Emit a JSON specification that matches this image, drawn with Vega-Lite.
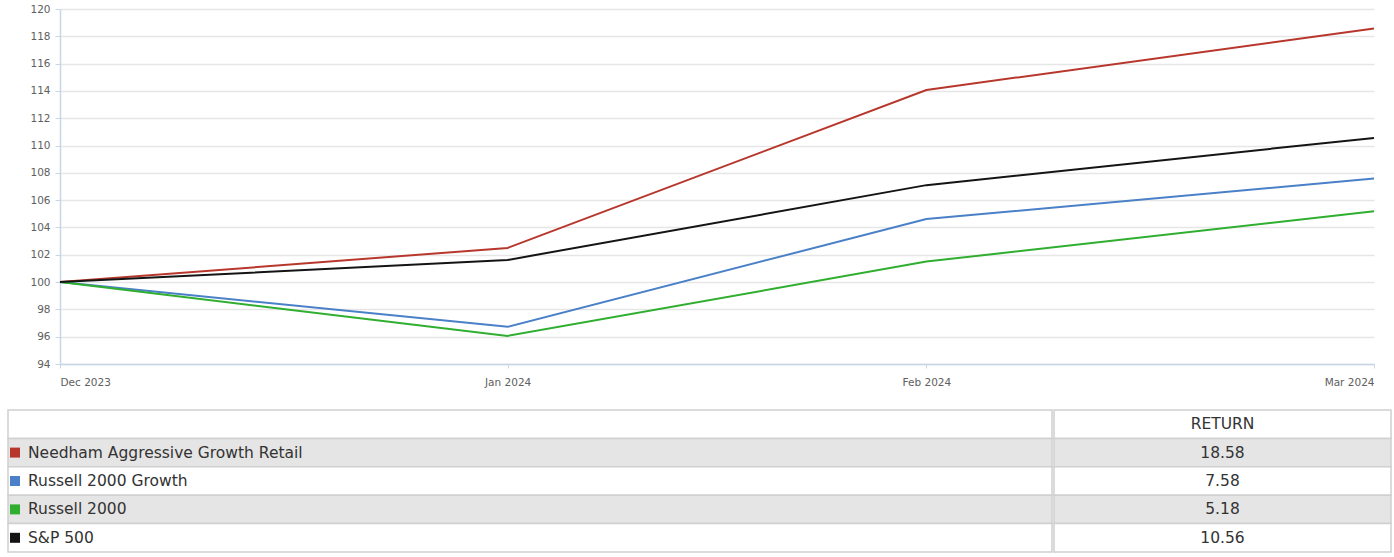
{
  "$schema": "https://vega.github.io/schema/vega-lite/v6.json",
  "padding": {"left": 7, "top": 4, "right": 0, "bottom": 0},
  "background": "#ffffff",
  "config": {"view": {"stroke": null}, "font": "DejaVu Sans"},
  "datasets": {
    "series": [
      {"series": "Needham Aggressive Growth Retail", "date": "2023-12-31", "value": 100},
      {"series": "Needham Aggressive Growth Retail", "date": "2024-01-31", "value": 102.5},
      {"series": "Needham Aggressive Growth Retail", "date": "2024-02-29", "value": 114.07},
      {"series": "Needham Aggressive Growth Retail", "date": "2024-03-31", "value": 118.58},
      {"series": "Russell 2000 Growth", "date": "2023-12-31", "value": 100},
      {"series": "Russell 2000 Growth", "date": "2024-01-31", "value": 96.72},
      {"series": "Russell 2000 Growth", "date": "2024-02-29", "value": 104.62},
      {"series": "Russell 2000 Growth", "date": "2024-03-31", "value": 107.58},
      {"series": "Russell 2000", "date": "2023-12-31", "value": 100},
      {"series": "Russell 2000", "date": "2024-01-31", "value": 96.06},
      {"series": "Russell 2000", "date": "2024-02-29", "value": 101.5},
      {"series": "Russell 2000", "date": "2024-03-31", "value": 105.18},
      {"series": "S&P 500", "date": "2023-12-31", "value": 100},
      {"series": "S&P 500", "date": "2024-01-31", "value": 101.62},
      {"series": "S&P 500", "date": "2024-02-29", "value": 107.1},
      {"series": "S&P 500", "date": "2024-03-31", "value": 110.56}
    ],
    "table": [
      {"rank": 0, "name": "", "ret": null},
      {"rank": 1, "name": "Needham Aggressive Growth Retail", "ret": 18.58},
      {"rank": 2, "name": "Russell 2000 Growth", "ret": 7.58},
      {"rank": 3, "name": "Russell 2000", "ret": 5.18},
      {"rank": 4, "name": "S&P 500", "ret": 10.56}
    ]
  },
  "vconcat": [
    {
      "width": 1314,
      "height": 355,
      "data": {"name": "series"},
      "mark": {"type": "line", "strokeWidth": 2},
      "encoding": {
        "x": {
          "field": "date", "type": "temporal",
          "scale": {"type": "utc"},
          "axis": {
            "title": null,
            "values": [
              {"year": 2023, "month": 12, "date": 31, "utc": true},
              {"year": 2024, "month": 1, "date": 31, "utc": true},
              {"year": 2024, "month": 2, "date": 29, "utc": true},
              {"year": 2024, "month": 3, "date": 31, "utc": true}
            ],
            "format": "%b %Y",
            "labelFlush": true,
            "labelFontSize": 10.5, "labelColor": "#606060",
            "labelPadding": 9,
            "tickSize": 4, "tickColor": "#c8d7e6",
            "domainColor": "#c8d7e6", "domainWidth": 1.5,
            "grid": false
          }
        },
        "y": {
          "field": "value", "type": "quantitative",
          "scale": {"domain": [94, 120], "nice": false, "zero": false},
          "axis": {
            "title": null,
            "values": [94, 96, 98, 100, 102, 104, 106, 108, 110, 112, 114, 116, 118, 120],
            "labelFontSize": 10.5, "labelColor": "#606060",
            "labelPadding": 5,
            "tickSize": 5, "tickColor": "#c8d7e6",
            "domainColor": "#c8d7e6", "domainWidth": 1.5,
            "minExtent": 52,
            "grid": true, "gridColor": "#e6e6e6", "gridWidth": 1.5
          }
        },
        "color": {
          "field": "series", "type": "nominal",
          "scale": {
            "domain": ["Needham Aggressive Growth Retail", "Russell 2000 Growth", "Russell 2000", "S&P 500"],
            "range": ["#b8372c", "#4a80c8", "#2fae2f", "#141414"]
          },
          "legend": null
        }
      }
    },
    {
      "data": {"name": "table"},
      "spacing": 0,
      "hconcat": [
        {
          "width": 992,
          "height": 142,
          "encoding": {
            "x": {"datum": "name", "type": "nominal", "scale": {"range": [-52, 992], "paddingInner": 0, "paddingOuter": 0}, "axis": null},
            "y": {"field": "rank", "type": "ordinal", "scale": {"domain": [0, 1, 2, 3, 4], "paddingInner": 0, "paddingOuter": 0}, "axis": null}
          },
          "layer": [
            {
              "mark": {"type": "rect", "stroke": "#d0d0d0", "strokeWidth": 1.5},
              "encoding": {
                "fill": {"condition": {"test": "datum.rank % 2 == 1", "value": "#e5e5e5"}, "value": "#ffffff"}
              }
            },
            {
              "transform": [{"filter": "datum.rank > 0"}],
              "mark": {"type": "square", "size": 100, "opacity": 1, "filled": true, "xOffset": 7},
              "encoding": {
                "x": {"datum": "name", "type": "nominal", "bandPosition": 0},
                "color": {
                  "field": "name", "type": "nominal",
                  "scale": {
                    "domain": ["Needham Aggressive Growth Retail", "Russell 2000 Growth", "Russell 2000", "S&P 500"],
                    "range": ["#b22418", "#2f6fcf", "#20a820", "#000000"]
                  },
                  "legend": null
                }
              }
            },
            {
              "transform": [{"filter": "datum.rank > 0"}],
              "mark": {"type": "text", "align": "left", "baseline": "middle", "fontSize": 15.5, "color": "#333333", "dx": 20},
              "encoding": {
                "x": {"datum": "name", "type": "nominal", "bandPosition": 0},
                "text": {"field": "name"}
              }
            }
          ]
        },
        {
          "width": 337,
          "height": 142,
          "encoding": {
            "y": {"field": "rank", "type": "ordinal", "scale": {"domain": [0, 1, 2, 3, 4], "paddingInner": 0, "paddingOuter": 0}, "axis": null}
          },
          "layer": [
            {
              "mark": {"type": "rect", "stroke": "#d0d0d0", "strokeWidth": 1.5},
              "encoding": {
                "fill": {"condition": {"test": "datum.rank % 2 == 1", "value": "#e5e5e5"}, "value": "#ffffff"}
              }
            },
            {
              "transform": [{"filter": "datum.rank > 0"}],
              "mark": {"type": "text", "align": "center", "baseline": "middle", "fontSize": 15.5, "color": "#333333"},
              "encoding": {
                "text": {"field": "ret", "type": "quantitative", "format": ".2f"}
              }
            },
            {
              "transform": [{"filter": "datum.rank == 0"}],
              "mark": {"type": "text", "align": "center", "baseline": "middle", "fontSize": 15.5, "color": "#333333", "text": "RETURN"},
              "encoding": {}
            }
          ]
        }
      ]
    }
  ],
  "spacing": 21
}
